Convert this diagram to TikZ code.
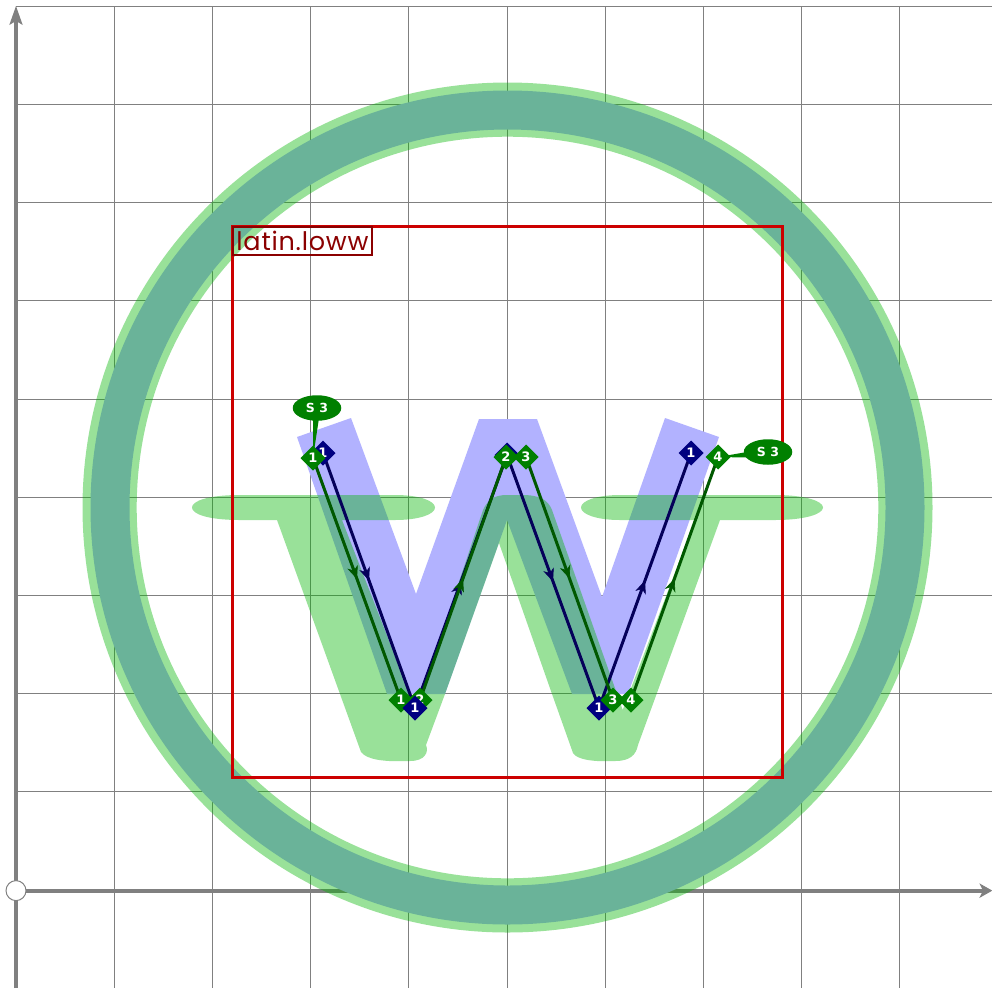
\documentclass[tikz,border=0pt]{standalone}
\usepackage{fontspec}
\setmainfont{DejaVu Sans}
\newfontfamily\labfont[LetterSpace=3]{Poppins}
\usetikzlibrary{shapes.geometric,decorations.markings,arrows.meta}
\pgfdeclarelayer{under}
\pgfdeclarelayer{wires}
\pgfsetlayers{under,wires,main}
\definecolor{gridc}{RGB}{128,128,128}
\definecolor{glyphg}{RGB}{0,182,0}
\definecolor{glyphb}{RGB}{178,178,255}
\definecolor{ptg}{RGB}{0,128,0}
\definecolor{ptn}{RGB}{0,0,128}
\definecolor{wireg}{RGB}{0,88,0}
\definecolor{wiren}{RGB}{5,0,90}
\definecolor{boxr}{RGB}{204,0,0}
\definecolor{labr}{RGB}{139,0,0}
\tikzset{
 gridline/.style={draw=gridc,line width=1.2pt},
 axisline/.style={draw=gridc,line width=4.2pt},
 axistip/.style={fill=gridc,draw=none},
 bluefill/.style={fill=glyphb,draw=none},
 greenfill/.style={fill=glyphg,fill opacity=.4,draw=none},
 pt/.style={diamond,minimum width=25pt,minimum height=25pt,inner sep=0pt,outer sep=0pt,text=white,font=\bfseries\fontsize{13}{13}\selectfont},
 gpt/.style={pt,fill=ptg},
 npt/.style={pt,fill=ptn},
 wire/.style={line width=3pt,postaction={decorate},decoration={markings,mark=at position .5 with {\arrow[line width=.6pt]{Stealth[length=13pt,width=11pt,inset=4pt]}}}},
 gwire/.style={wire,draw=wireg,color=wireg},
 nwire/.style={wire,draw=wiren,color=wiren},
 tag/.style={ellipse,fill=ptg,minimum width=48.5pt,minimum height=25.5pt,inner sep=0pt,text=white,font=\bfseries\fontsize{12.5}{12.5}\selectfont},
}
\begin{document}
\begin{tikzpicture}[x=1pt,y=-1pt]
\useasboundingbox (0,0) rectangle (992,988);
\begin{pgfonlayer}{under}
\fill[white] (0,0) rectangle (992,988);
% grid
\foreach \gx in {114.2,212.4,310.6,408.8,507.5,605.2,703.4,801.6,899.8}
  \draw[gridline] (\gx,6.2) -- (\gx,988);
\foreach \gy in {6.2,104.4,202.6,300.8,399.5,497.2,595.4,693.6,791.8}
  \draw[gridline] (16,\gy) -- (992,\gy);
% axes
\draw[axisline] (16,988) -- (16,20);
\fill[axistip] (16,6) -- (22.7,25) -- (16,21) -- (9.3,25) -- cycle;
\draw[axisline] (16,890.6) -- (983,890.6);
\fill[axistip] (992.3,890.6) -- (979.3,883.3) -- (983,890.6) -- (979.3,898) -- cycle;
% blue glyph
\fill[bluefill,even odd rule] (507.5,507.5) circle[radius=417] (507.5,507.5) circle[radius=378];
\fill[bluefill] (297,437) -- (351,418) -- (416,594) -- (479,419) -- (537,419) -- (602,597) -- (665,418) -- (719,437)
  -- (628,694) -- (572,694) -- (507,520) -- (445,694) -- (387,694) -- cycle;
% green glyph
\fill[greenfill,even odd rule] (507.5,507.5) circle[radius=425] (507.5,507.5) circle[radius=370.8];
\fill[greenfill]
  (240,495) -- (395,495) .. controls (420,495) and (435,501) .. (435,507.5)
  .. controls (435,514) and (420,520) .. (395,520) -- (342,520) -- (416,710) -- (483,510)
  .. controls (488,499) and (495,495) .. (507,495) -- (522,495)
  .. controls (540,495) and (548,500) .. (552,510) -- (622.7,710) -- (695,520) -- (620,520)
  .. controls (596,520) and (581,514) .. (581,507.5)
  .. controls (581,501) and (596,495) .. (620,495) -- (775,495)
  .. controls (805,495) and (823,501) .. (823,507.5)
  .. controls (823,514) and (805,520) .. (775,520) -- (720,520)
  -- (638,745) .. controls (636,755) and (630,761) .. (615,761)
  .. controls (595,762) and (577,760) .. (573,753)
  -- (552,694) -- (499,543) -- (445,694) -- (426,745)
  .. controls (429,752) and (425,761) .. (410,761)
  .. controls (385,762) and (367,760) .. (361,752)
  -- (277,520) -- (240,520)
  .. controls (208,520) and (192,514) .. (192,507.5)
  .. controls (192,501) and (208,495) .. (240,495) -- cycle;
% bounding box
\draw[draw=boxr,line width=3pt] (232.5,226.5) rectangle (782,777);
\end{pgfonlayer}
\node[draw=gridc,fill=white,circle,line width=1pt,minimum size=20pt,inner sep=0pt] (origin) at (16,890.6) {};
\node[draw=labr,line width=2pt,minimum width=139pt,minimum height=28pt,inner sep=0pt,text=labr,font=\labfont\fontsize{25.5}{25.5}\selectfont] (lab) at (302.5,241) {\raisebox{-1.5pt}{latin.loww}};
% callouts
\node[tag] (s1) at (317,408) {S 3};
\node[tag] (s2) at (768,452) {S 3};
% points
\node[npt] (n1) at (323,453) {1};
\node[gpt] (g1) at (313,458) {1};
\node[gpt] (g2) at (401,700) {1};
\node[gpt] (g3) at (420,700) {2};
\node[npt] (n2) at (415,708) {1};
\node[npt] (n3) at (507,455) {2};
\node[gpt] (g4) at (506,457) {2};
\node[gpt] (g5) at (526,457) {3};
\node[npt] (n4) at (599,708) {1};
\node[gpt] (g6) at (613,700) {3};
\node[gpt] (g7) at (631,700) {4};
\node[npt] (n5) at (691,453) {1};
\node[gpt] (g8) at (718,457) {4};
\begin{pgfonlayer}{wires}
\fill[ptg] (g1.center) -- (313,418) -- (319,418) -- cycle;
\fill[ptg] (g8.center) -- (747,452) -- (747,457.5) -- cycle;
\draw[nwire] (n1.center) -- (n2.center);
\draw[nwire] (n2.center) -- (n3.center);
\draw[nwire] (n3.center) -- (n4.center);
\draw[nwire] (n4.center) -- (n5.center);
\draw[gwire] (g1.center) -- (g2.center);
\draw[gwire] (g3.center) -- (g4.center);
\draw[gwire] (g5.center) -- (g6.center);
\draw[gwire] (g7.center) -- (g8.center);
\end{pgfonlayer}
\end{tikzpicture}
\end{document}
